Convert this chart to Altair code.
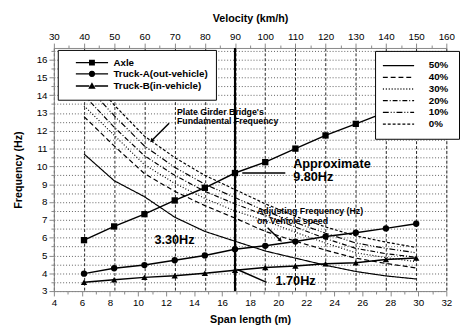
import altair as alt
import pandas as pd

FONT = "Liberation Sans"

# ---------------- data ----------------
SPAN = [6.15, 8.30, 10.46, 12.62, 14.77, 16.92, 19.08, 21.23, 23.38, 25.54, 27.69, 29.85]

SERIES = ["Axle", "Truck-A(out-vehicle)", "Truck-B(in-vehicle)"]
AXLE = [5.86, 6.63, 7.32, 8.09, 8.80, 9.63, 10.24, 11.00, 11.74, 12.39, 13.05, 13.70]
TRUCK_A = [3.98, 4.28, 4.46, 4.73, 5.00, 5.35, 5.54, 5.78, 6.06, 6.28, 6.52, 6.78]
TRUCK_B = [3.49, 3.64, 3.77, 3.86, 4.00, 4.17, 4.32, 4.41, 4.54, 4.59, 4.77, 4.86]

LOADS = ["50%", "40%", "30%", "20%", "10%", "0%"]
F_50 = [10.70, 9.20, 8.30, 7.15, 6.35, 5.80, 5.25, 4.85, 4.45, 4.10, 3.85, 3.68]
F_40 = [12.80, 11.15, 9.60, 8.60, 7.80, 7.10, 6.35, 5.80, 5.30, 4.85, 4.55, 4.30]
F_30 = [13.40, 11.75, 10.10, 9.05, 8.20, 7.50, 6.95, 6.30, 5.70, 5.15, 4.88, 4.65]
F_20 = [14.00, 12.20, 10.60, 9.50, 8.60, 7.90, 7.25, 6.60, 5.95, 5.40, 5.10, 4.90]
F_10 = [14.70, 12.85, 11.15, 9.95, 9.00, 8.25, 7.50, 6.85, 6.25, 5.70, 5.40, 5.15]
F_0 = [15.40, 13.45, 11.70, 10.50, 9.50, 8.70, 7.90, 7.20, 6.60, 6.10, 5.75, 5.45]

SPAN_TICKS = list(range(4, 33))
VEL_TICKS = list(range(30, 161, 5))
HZ_TICKS = [3, 3.5, 4, 4.5, 5, 5.5, 6, 6.5, 7, 7.5, 8, 8.5, 9, 9.5, 10, 10.5,
            11, 11.5, 12, 12.5, 13, 13.5, 14, 14.5, 15, 15.5, 16, 16.5]
BRIDGE_VELOCITY = [90]

ANN_TEXT = ["Plate Girder Bridge's", "Fundamental Frequency", "Approximate", "9.80Hz",
            "3.30Hz", "1.70Hz", "Adjusting Frequency (Hz)", "on Vehicle speed"]
ANN_SPAN = [12.78, 12.78, 21.07, 21.07, 11.17, 19.81, 18.49, 18.49]
ANN_FREQ = [13.07, 12.57, 10.11, 9.40, 5.84, 3.55, 7.47, 6.92]
ANN_SIZE = [9, 9, 13, 13, 13, 13, 9, 9]

ARR_SPAN = [12.22, 17.44, 17.09, 19.25]
ARR_FREQ = [12.43, 9.63, 4.21, 6.56]
ARR_SPAN2 = [10.97, 20.51, 19.18, 20.16]
ARR_FREQ2 = [11.44, 9.63, 3.49, 5.85]
HEAD_SPAN = [10.97, 20.16]
HEAD_FREQ = [11.44, 5.85]
HEAD_ANGLE = [225, 135]

# ---------------- tables ----------------
rows = []
for name, vals in zip(SERIES, [AXLE, TRUCK_A, TRUCK_B]):
    for s, f in zip(SPAN, vals):
        rows.append({"span": s, "freq": f, "series": name})
df_series = pd.DataFrame(rows)

rows = []
for name, vals in zip(LOADS, [F_50, F_40, F_30, F_20, F_10, F_0]):
    for s, f in zip(SPAN, vals):
        rows.append({"span": s, "freq": f, "load": name})
df_curves = pd.DataFrame(rows)

df_ann = pd.DataFrame({"span": ANN_SPAN, "freq": ANN_FREQ, "text": ANN_TEXT, "fs": ANN_SIZE})
df_arr = pd.DataFrame({"span": ARR_SPAN, "freq": ARR_FREQ, "span2": ARR_SPAN2, "freq2": ARR_FREQ2})
df_head = pd.DataFrame({"span": HEAD_SPAN, "freq": HEAD_FREQ, "ang": HEAD_ANGLE})
df_vel = pd.DataFrame({"vel": BRIDGE_VELOCITY})

# ---------------- scales / axes ----------------
XS = alt.Scale(domain=[4, 32], nice=False, zero=False)
YS = alt.Scale(domain=[3, 16.65], nice=False, zero=False)

XAXIS = alt.Axis(values=SPAN_TICKS, labelExpr="datum.value % 2 === 0 ? datum.label : ''",
                 tickSize={"condition": {"test": "datum.value % 2 === 0", "value": 5}, "value": 3},
                 grid=False, title="Span length (m)", labelOverlap=False, labelFlush=False,
                 labelPadding=2, titlePadding=6)
YAXIS = alt.Axis(values=HZ_TICKS,
                 labelExpr="datum.value % 1 === 0 ? format(datum.value, 'd') : ''",
                 tickSize={"condition": {"test": "datum.value % 1 === 0", "value": 5}, "value": 3},
                 grid=True, gridDash=[1, 2], gridColor="#333333", gridWidth=0.8,
                 title="Frequency (Hz)", labelOverlap=False, labelPadding=2, titlePadding=13)

X = alt.X("span:Q", scale=XS, axis=XAXIS)
Y = alt.Y("freq:Q", scale=YS, axis=YAXIS)

DASHES = [[1, 0], [5, 3], [1, 2], [5, 2, 1, 2], [6, 2, 1, 2, 1, 2], [3, 2]]

curves = alt.Chart(df_curves).mark_line(color="black", strokeWidth=1.2, clip=True).encode(
    x=X, y=Y,
    strokeDash=alt.StrokeDash("load:N", scale=alt.Scale(domain=LOADS, range=DASHES),
                              legend=alt.Legend(title=None, orient="none", legendX=329, legendY=3,
                                                fillColor="white", strokeColor="black",
                                                padding=10, rowPadding=2, symbolType="M-5.33,0L5.33,0",
                                                symbolSize=36, symbolOffset=9, labelOffset=26,
                                                symbolStrokeColor="black", symbolStrokeWidth=1.3,
                                                labelFont=FONT, labelFontWeight="bold",
                                                labelFontSize=10, labelColor="black", zindex=2)),
    order=alt.Order("span:Q"),
)

s_lines = alt.Chart(df_series).mark_line(color="black", strokeWidth=1.5).encode(
    x=X, y=Y, detail="series:N", order=alt.Order("span:Q"))

s_points = alt.Chart(df_series).mark_point(filled=True, color="black", opacity=1, size=42).encode(
    x=X, y=Y,
    shape=alt.Shape("series:N", scale=alt.Scale(domain=SERIES, range=["square", "circle", "triangle-up"]),
                    legend=None))

# legend glyphs: a short line (two thin bars) with the marker in the middle
BARS = "M-5.5,-0.25L-0.9,-0.25L-0.9,0.25L-5.5,0.25ZM0.9,-0.25L5.5,-0.25L5.5,0.25L0.9,0.25Z"
LEG_SHAPES = [
    BARS + "M-1,-1L1,-1L1,1L-1,1Z",
    BARS + ("M1.1,0L0.95,0.55L0.55,0.95L0,1.1L-0.55,0.95L-0.95,0.55L-1.1,0L-0.95,-0.55"
            "L-0.55,-0.95L0,-1.1L0.55,-0.95L0.95,-0.55Z"),
    BARS + "M0,-1.3L1.25,0.9L-1.25,0.9Z",
]
carrier = alt.Chart(df_series).mark_point(filled=True, color="black", clip=True).encode(
    x=X, y=alt.value(-60),
    shape=alt.Shape("series:N", scale=alt.Scale(domain=SERIES, range=LEG_SHAPES),
                    legend=alt.Legend(title=None, orient="none", legendX=4, legendY=2,
                                      fillColor="white", strokeColor="black", padding=8, rowPadding=-1.5,
                                      symbolSize=36, symbolOffset=22, labelOffset=17,
                                      symbolFillColor="black", symbolOpacity=1,
                                      labelExpr="datum.label + '        '",
                                      labelFont=FONT, labelFontWeight="bold", labelFontSize=10,
                                      labelColor="black", zindex=2)))

arrows = alt.Chart(df_arr).mark_rule(color="black", strokeWidth=1.5).encode(
    x=X, y=Y, x2="span2:Q", y2="freq2:Q")

heads = alt.Chart(df_head).mark_point(shape="triangle-up", filled=True, color="black", size=22,
                                      opacity=1).encode(
    x=X, y=Y, angle=alt.Angle("ang:Q", scale=None))

texts = alt.Chart(df_ann).mark_text(align="left", baseline="middle", font=FONT, fontWeight="bold",
                                    color="black").encode(
    x=X, y=Y, text="text:N", size=alt.Size("fs:Q", scale=None))

span_layer = alt.layer(curves, s_lines, s_points, carrier, arrows, heads, texts).resolve_scale(
    shape="independent")

vel_layer = alt.Chart(df_vel).mark_rule(color="black", strokeWidth=2.2).encode(
    x=alt.X("vel:Q", scale=alt.Scale(domain=[30, 160], nice=False, zero=False),
            axis=alt.Axis(orient="top", values=VEL_TICKS, title="Velocity (km/h)",
                          labelExpr="datum.value % 10 === 0 ? datum.label : ''",
                          tickSize={"condition": {"test": "datum.value % 10 === 0", "value": 5}, "value": 3},
                          grid=True, gridDash=[3, 2], gridColor="#222222", gridWidth=1,
                          gridOpacity={"condition": {"test": "datum.value % 10 === 0", "value": 1}, "value": 0},
                          labelOverlap=False, labelFlush=False, labelPadding=2, titlePadding=8)))

chart = alt.layer(span_layer, vel_layer).resolve_scale(x="independent").properties(
    width=402, height=249,
    autosize=alt.AutoSizeParams(type="none"),
    padding={"left": 47, "top": 37, "right": 14, "bottom": 40},
).configure_view(stroke="black", strokeWidth=1.2).configure_axis(
    domainColor="black", domainWidth=1.5, tickColor="black", tickWidth=1.2,
    labelFont=FONT, labelFontWeight="bold", labelFontSize=11, labelColor="black",
    titleFont=FONT, titleFontWeight="bold", titleFontSize=12, titleColor="black",
).configure(background="white")

chart.save("out.html", embed_options={"renderer": "svg", "actions": False})
